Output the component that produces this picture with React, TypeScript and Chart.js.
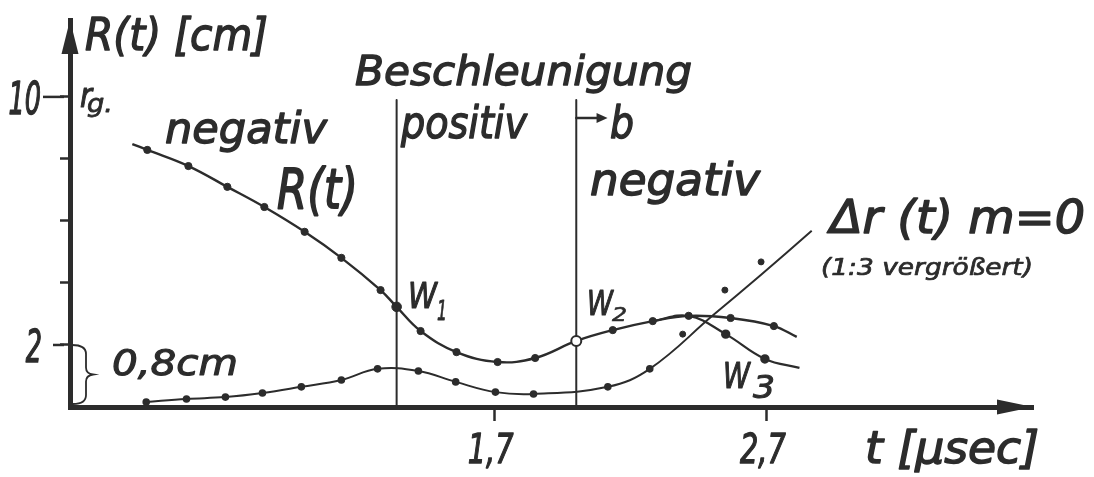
import { useEffect, useRef } from "react";
import { Chart, registerables } from "chart.js";

Chart.register(...registerables);

const INK = "#2c2c2c";
const FONT = '"DejaVu Sans", "Liberation Sans", sans-serif';

// R(t): first and last entries are the free ends of the drawn curve
const rCurveT = [0.369, 0.424, 0.575, 0.718, 0.854, 1.002, 1.137, 1.281, 1.34, 1.428, 1.56, 1.711, 1.849, 2.0, 2.134, 2.281, 2.413, 2.567, 2.726, 2.81];
const rCurveV = [8.48, 8.29, 7.77, 7.1, 6.45, 5.65, 4.81, 3.77, 3.23, 2.45, 1.77, 1.45, 1.58, 2.13, 2.48, 2.77, 2.94, 2.87, 2.61, 2.26];

// lower branch of R(t) towards W3 (shares its first two entries with R(t))
const w3BranchT = [2.281, 2.413, 2.549, 2.693, 2.82];
const w3BranchV = [2.77, 2.94, 2.35, 1.55, 1.26];

// Δr(t), m = 0: measured points, then the unmarked continuation of the curve
const drMeasT = [0.42, 0.568, 0.711, 0.847, 0.99, 1.137, 1.27, 1.42, 1.557, 1.703, 1.843, 2.116, 2.27];
const drMeasV = [0.16, 0.26, 0.32, 0.45, 0.65, 0.87, 1.23, 1.16, 0.81, 0.48, 0.42, 0.65, 1.23];
const drTailT = [2.5, 2.678, 2.865];
const drTailV = [2.94, 4.26, 5.68];

// single points off the Δr curve
const offCurveT = [2.391, 2.546, 2.679];
const offCurveV = [2.35, 3.77, 4.68];

// sign changes of the acceleration (W1, W2)
const accelBoundaries = [1.34, 2.0];
const boundaryTop = 9.9;

const xTickValues = [1.7, 2.7];
const xTickLabels = ["1,7", "2,7"];
const yTickValues = [2, 4, 6, 8, 10];
const yTickLabels = ["2", "", "", "", "10"];

const toPoints = (ts: number[], vs: number[]) => ts.map((t, i) => ({ x: t, y: vs[i] }));

// hand-lettered annotations: text, left, baseline, font size, lettered width
const labelLayout: [string, number, number, number, number][] = [
  ["R(t) [cm]", 85, 50, 45, 183],
  ["r", 80, 107, 34, 12],
  ["g.", 87, 112, 25, 26],
  ["Beschleunigung", 355, 85, 41, 337],
  ["negativ", 165, 143, 42, 162],
  ["positiv", 401, 138, 44, 126],
  ["b", 610, 138, 44, 24],
  ["negativ", 590, 195, 45, 170],
  ["R(t)", 277, 208, 56, 81],
  ["W", 408, 308, 36, 29],
  ["1", 437, 320, 26, 10],
  ["W", 587, 315, 34, 26],
  ["2", 612, 321, 20, 15],
  ["W", 723, 388, 35, 27],
  ["3", 753, 398, 32, 22],
  ["Δr (t) m=0", 830, 233, 46, 255],
  ["(1:3 vergrößert)", 821, 275, 23, 212],
  ["0,8cm", 112, 375, 35, 126],
  ["t [μsec]", 865, 463, 44, 174],
];

function letter(ctx: CanvasRenderingContext2D, text: string, x: number, baseline: number, size: number, opts: { width?: number; squeeze?: number; align?: "left" | "center" | "right" }) {
  ctx.save();
  ctx.font = `italic ${size}px ${FONT}`;
  ctx.textAlign = "left";
  ctx.textBaseline = "alphabetic";
  const w = ctx.measureText(text).width;
  const sx = opts.width ? opts.width / w : opts.squeeze ?? 1;
  const drawnW = w * sx;
  let left = x;
  if (opts.align === "center") left = x - drawnW / 2;
  if (opts.align === "right") left = x - drawnW;
  ctx.translate(left, baseline);
  ctx.scale(sx, 1);
  ctx.fillStyle = INK;
  ctx.strokeStyle = INK;
  // pen weight grows with the lettering size
  ctx.lineWidth = Math.max(0.5, size * 0.032);
  ctx.lineJoin = "round";
  ctx.fillText(text, 0, 0);
  ctx.strokeText(text, 0, 0);
  ctx.restore();
}

const drawing = {
  id: "drawing",
  beforeDatasetsDraw(chart: any) {
    const { ctx, scales } = chart;
    const x = scales.x;
    const y = scales.y;
    ctx.save();
    ctx.strokeStyle = INK;
    ctx.fillStyle = INK;
    ctx.lineWidth = 2;
    ctx.lineCap = "round";

    // boundaries between the acceleration regions
    const y0 = y.getPixelForValue(0);
    const yTop = y.getPixelForValue(boundaryTop);
    for (const t of accelBoundaries) {
      const px = x.getPixelForValue(t);
      ctx.beginPath();
      ctx.moveTo(px, y0);
      ctx.lineTo(px, yTop);
      ctx.stroke();
    }

    // arrow towards "b"
    const ax0 = x.getPixelForValue(accelBoundaries[1]);
    const ax1 = x.getPixelForValue(2.115);
    const ay = y.getPixelForValue(9.32);
    ctx.lineWidth = 2.4;
    ctx.beginPath();
    ctx.moveTo(ax0, ay);
    ctx.lineTo(ax1 - 6, ay);
    ctx.stroke();
    ctx.beginPath();
    ctx.moveTo(ax1, ay);
    ctx.lineTo(ax1 - 11, ay - 5);
    ctx.lineTo(ax1 - 11, ay + 5);
    ctx.closePath();
    ctx.fill();

    // brace for the 0,8 cm offset
    const bTop = y.getPixelForValue(2);
    const bBot = y0 - 3;
    const bx = x.left + 16;
    const mid = (bTop + bBot) / 2;
    ctx.lineWidth = 1.8;
    ctx.beginPath();
    ctx.moveTo(x.left + 2, bTop);
    ctx.quadraticCurveTo(bx, bTop, bx, bTop + 9);
    ctx.lineTo(bx, mid - 7);
    ctx.quadraticCurveTo(bx, mid - 1, bx + 7, mid);
    ctx.quadraticCurveTo(bx, mid + 1, bx, mid + 7);
    ctx.lineTo(bx, bBot - 9);
    ctx.quadraticCurveTo(bx, bBot, x.left + 3, bBot);
    ctx.stroke();
    ctx.restore();
  },
  afterDraw(chart: any) {
    const { ctx, scales, chartArea } = chart;
    const x = scales.x;
    const y = scales.y;
    const axisY = y.getPixelForValue(0);
    const axisX = chartArea.left;
    ctx.save();
    ctx.fillStyle = INK;
    ctx.strokeStyle = INK;

    // arrow heads of both axes
    ctx.beginPath();
    ctx.moveTo(axisX, chartArea.top);
    ctx.lineTo(axisX - 8.5, chartArea.top + 34);
    ctx.lineTo(axisX + 8.5, chartArea.top + 34);
    ctx.closePath();
    ctx.fill();
    ctx.beginPath();
    ctx.moveTo(chartArea.right, axisY);
    ctx.lineTo(chartArea.right - 36, axisY - 7.5);
    ctx.lineTo(chartArea.right - 36, axisY + 7.5);
    ctx.closePath();
    ctx.fill();

    // longer ticks at the labelled values
    ctx.lineWidth = 2.5;
    yTickValues.forEach((v, i) => {
      if (!yTickLabels[i]) return;
      const py = y.getPixelForValue(v);
      ctx.beginPath();
      ctx.moveTo(v >= 10 ? axisX - 27 : axisX - 17, py);
      ctx.lineTo(axisX - 6, py);
      ctx.stroke();
    });
    ctx.restore();

    // tick labels
    yTickValues.forEach((v, i) => {
      if (!yTickLabels[i]) return;
      const py = y.getPixelForValue(v);
      letter(ctx, yTickLabels[i], v >= 10 ? axisX - 29 : axisX - 28, py + 17, 44, { squeeze: 0.58, align: "right" });
    });
    xTickValues.forEach((v, i) => {
      letter(ctx, xTickLabels[i], x.getPixelForValue(v) - 4, axisY + 56, 40, { squeeze: 0.72, align: "center" });
    });

    // annotations
    for (const [text, lx, base, size, width] of labelLayout) {
      letter(ctx, text, lx, base, size, { width });
    }
  },
};

export default function App() {
  const ref = useRef<HTMLCanvasElement>(null);

  useEffect(() => {
    const canvas = ref.current;
    if (!canvas) return;
    const rLast = rCurveT.length - 1;
    const wLast = w3BranchT.length - 1;
    const chart = new Chart(canvas, {
      type: "line",
      data: {
        datasets: [
          {
            label: "R(t)",
            data: toPoints(rCurveT, rCurveV),
            borderColor: INK,
            borderWidth: 2.4,
            tension: 0.4,
            pointRadius: (c: any) => {
              if (c.dataIndex === 0 || c.dataIndex === rLast) return 0;
              const t = c.raw.x;
              if (t === accelBoundaries[0]) return 4.8;
              if (t === accelBoundaries[1]) return 5;
              return 3.6;
            },
            pointBackgroundColor: (c: any) => (c.raw && c.raw.x === accelBoundaries[1] ? "#ffffff" : INK),
            pointBorderColor: INK,
            pointBorderWidth: (c: any) => (c.raw && c.raw.x === accelBoundaries[1] ? 2 : 1),
          },
          {
            label: "R(t) W3",
            data: toPoints(w3BranchT, w3BranchV),
            borderColor: INK,
            borderWidth: 2.2,
            tension: 0.4,
            pointRadius: (c: any) => (c.dataIndex > 1 && c.dataIndex < wLast ? 3.6 : 0),
            pointBackgroundColor: INK,
            pointBorderColor: INK,
          },
          {
            label: "Δr(t) m=0",
            data: [...toPoints(drMeasT, drMeasV), ...toPoints(drTailT, drTailV)],
            borderColor: INK,
            borderWidth: 2,
            tension: 0.4,
            pointRadius: (c: any) => (c.dataIndex < drMeasT.length ? 2.8 : 0),
            pointBackgroundColor: INK,
            pointBorderColor: INK,
          },
          {
            label: "Einzelpunkte",
            data: toPoints(offCurveT, offCurveV),
            showLine: false,
            pointRadius: 3,
            pointBackgroundColor: INK,
            pointBorderColor: INK,
          },
        ],
      },
      options: {
        responsive: false,
        animation: false,
        events: [],
        layout: { padding: { top: 20, right: 61, left: 0, bottom: 0 } },
        plugins: { legend: { display: false }, tooltip: { enabled: false } },
        scales: {
          x: {
            type: "linear",
            min: 0.14,
            max: 3.678,
            afterFit: (s: any) => {
              s.height = 70;
            },
            afterBuildTicks: (s: any) => {
              s.ticks = xTickValues.map((v) => ({ value: v }));
            },
            grid: { drawOnChartArea: false, drawTicks: true, tickLength: 14, tickWidth: 2.5, tickColor: INK },
            border: { display: true, width: 5, color: INK },
            ticks: { display: false },
          },
          y: {
            type: "linear",
            min: 0,
            max: 12.48,
            afterFit: (s: any) => {
              s.width = 70;
            },
            afterBuildTicks: (s: any) => {
              s.ticks = yTickValues.map((v) => ({ value: v }));
            },
            grid: { drawOnChartArea: false, drawTicks: true, tickLength: 10, tickWidth: 2.5, tickColor: INK },
            border: { display: true, width: 5, color: INK },
            ticks: { display: false },
          },
        },
      },
      plugins: [drawing],
    } as any);
    return () => chart.destroy();
  }, []);

  return (
    <div style={{ position: "fixed", left: 0, top: 0, width: 1094, height: 477, background: "#ffffff" }}>
      <canvas ref={ref} width={1094} height={477} style={{ display: "block" }} />
    </div>
  );
}
